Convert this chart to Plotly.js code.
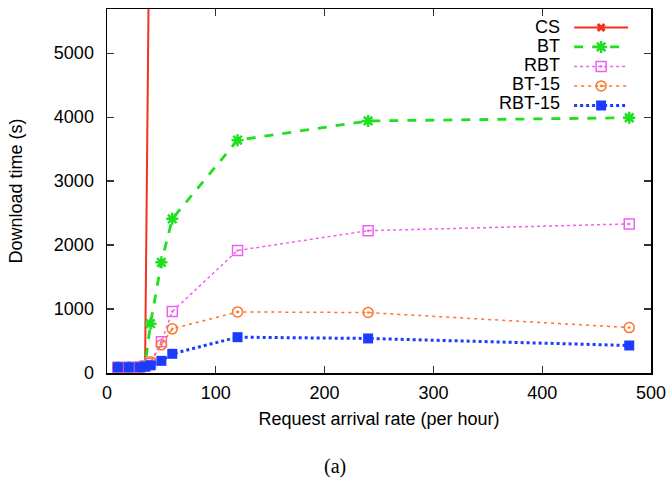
<!DOCTYPE html>
<html><head><meta charset="utf-8">
<script src="https://cdn.plot.ly/plotly-3.0.1.min.js"></script>
<style>html,body{margin:0;padding:0;background:#fff}#chart{width:670px;height:481px}</style>
</head><body><div id="chart"></div>
<script>
// Data
const seriesNames = ["CS", "BT", "RBT", "BT-15", "RBT-15"];
const xCS = [10, 20, 30, 35, 40];
const yCS = [90, 90, 90, 100, 9000];
const xRates = [10, 20, 30, 35, 40, 50, 60, 120, 240, 480];
const yBT    = [90, 90, 95, 120, 770, 1730, 2410, 3640, 3940, 3990];
const yRBT   = [90, 90, 95, 110, 150, 490, 960, 1915, 2225, 2330];
const yBT15  = [90, 90, 95, 105, 175, 440, 690, 955, 945, 710];
const yRBT15 = [90, 90, 90, 100, 120, 190, 300, 560, 540, 430];
const xTicks = [0, 100, 200, 300, 400, 500];
const yTicks = [0, 1000, 2000, 3000, 4000, 5000];

const FONT = "Liberation Sans, Arial, Helvetica, sans-serif";
const FS = 18;

const styles = [
  {color: "#f5301c", dash: "solid", width: 2, symbol: "x", msize: 8, mline: 0},
  {color: "#1fe01f", dash: "dash", width: 2.8, symbol: "asterisk-open", msize: 10, mline: 2.5},
  {color: "#f060f0", dash: "dot", width: 1.5, symbol: "square-open-dot", msize: 10, mline: 1.5},
  {color: "#ff7428", dash: "3px,4px", width: 1.5, symbol: "circle-open-dot", msize: 10, mline: 1.5},
  {color: "#1a3cff", dash: "dot", width: 3, symbol: "square", msize: 10, mline: 0}
];
const xs = [xCS, xRates, xRates, xRates, xRates];
const ys = [yCS, yBT, yRBT, yBT15, yRBT15];

const traces = seriesNames.map((n, i) => ({
  type: "scatter", mode: "lines+markers", name: " ",
  x: xs[i], y: ys[i],
  line: {color: styles[i].color, dash: styles[i].dash, width: styles[i].width},
  marker: {symbol: styles[i].symbol, size: styles[i].msize, color: styles[i].color,
           line: {color: styles[i].color, width: styles[i].mline}},
  hovertext: n
}));

const legendRowY = [0.9505, 0.898, 0.846, 0.794, 0.742];
const annotations = seriesNames.map((n, i) => ({
  xref: "paper", yref: "paper", x: 0.8365, y: legendRowY[i],
  xanchor: "right", yanchor: "middle", showarrow: false,
  text: n, font: {family: FONT, size: FS, color: "#000"}
}));
annotations.push({
  xref: "paper", yref: "paper", x: 0.4188, y: -0.256,
  xanchor: "center", yanchor: "middle", showarrow: false,
  text: "(a)", font: {family: "Liberation Serif, Times New Roman, serif", size: 20, color: "#000"}
});

const axisCommon = {
  showgrid: false, zeroline: false, showline: true, linecolor: "#000", linewidth: 1.5,
  mirror: "ticks", ticks: "inside", ticklen: 7, tickwidth: 1.2, tickcolor: "#333",
  tickfont: {family: FONT, size: FS, color: "#000"}
};

const layout = {
  width: 670, height: 481,
  margin: {l: 107, r: 19, t: 9, b: 108},
  paper_bgcolor: "#fff", plot_bgcolor: "#fff",
  font: {family: FONT, size: FS, color: "#000"},
  xaxis: Object.assign({}, axisCommon, {
    range: [0, 500], tickvals: xTicks, ticktext: xTicks.map(String),
    ticklabelstandoff: 3,
    title: {text: "Request arrival rate (per hour)", font: {family: FONT, size: FS}, standoff: 10}
  }),
  yaxis: Object.assign({}, axisCommon, {
    range: [0, 5690], tickvals: yTicks, ticktext: yTicks.map(String),
    ticklabelstandoff: 8,
    title: {text: "Download time (s)", font: {family: FONT, size: FS}, standoff: 26}
  }),
  showlegend: true,
  legend: {x: 0.8495, y: 0.99, xanchor: "left", yanchor: "top", bgcolor: "rgba(0,0,0,0)",
           font: {family: FONT, size: 12.7}, tracegroupgap: 0, traceorder: "normal", itemwidth: 54},
  annotations: annotations
};

Plotly.newPlot("chart", traces, layout, {displayModeBar: false, staticPlot: true});
</script></body></html>
